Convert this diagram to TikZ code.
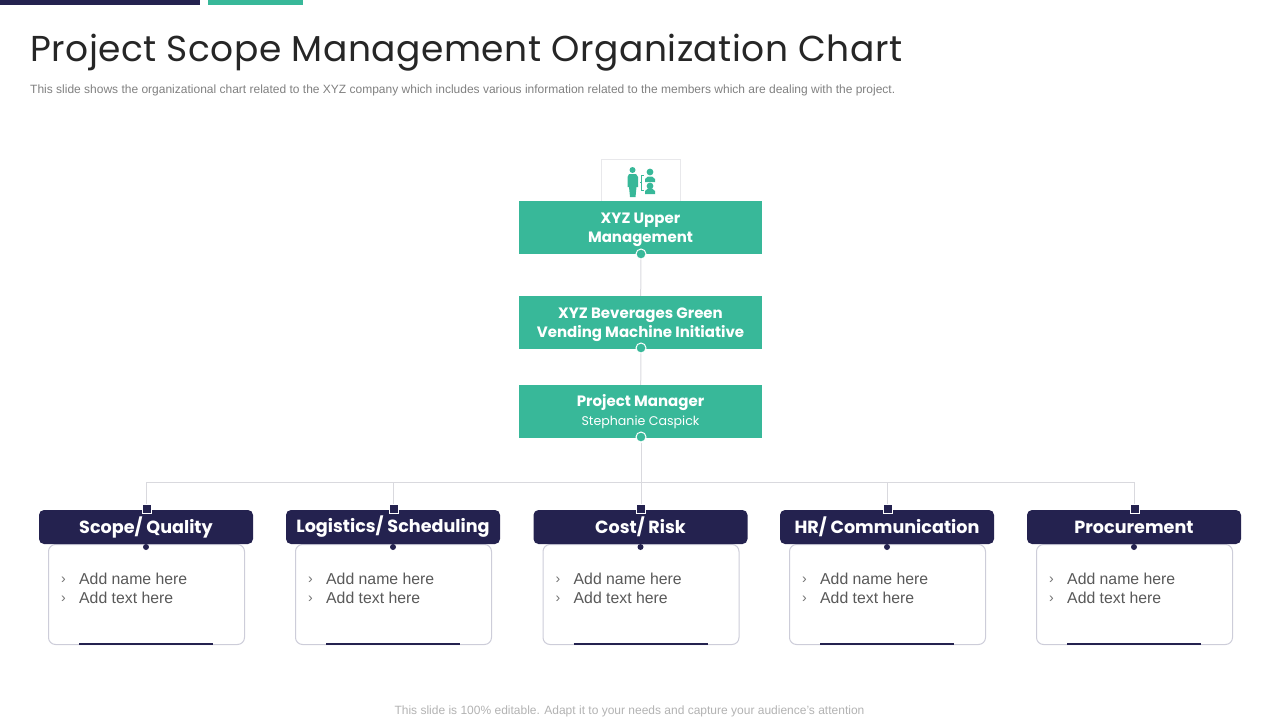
\documentclass[tikz,border=0pt]{standalone}
\usepackage{fontspec}
\setmainfont{Liberation Sans}
\newfontfamily\gothic{Poppins}
\newfontfamily\gothicwide[LetterSpace=1.45]{Poppins}
\definecolor{navy}{HTML}{24224F}
\definecolor{teal}{HTML}{38B899}
\definecolor{rule}{HTML}{D9D9DE}
\definecolor{listrule}{HTML}{CDCDD9}
\tikzset{
  topbox/.style={fill=teal,minimum width=243pt,minimum height=53pt,inner sep=0pt},
  toptext/.style={inner sep=0pt,text=white,align=center,font=\gothic\fontsize{15}{19}\selectfont},
  headbox/.style={fill=navy,rounded corners=5pt,minimum width=214pt,minimum height=34pt,inner sep=0pt,text=white,font=\gothic\bfseries\fontsize{17.6}{20}\selectfont},
  listbox/.style={draw=listrule,line width=1pt,fill=white,rounded corners=7pt,minimum width=196pt,minimum height=100pt,inner sep=0pt},
  greendot/.style={circle,fill=teal,draw=white,line width=1pt,minimum size=10pt,inner sep=0pt},
  navydot/.style={circle,fill=navy,minimum size=6pt,inner sep=0pt},
  navysq/.style={fill=navy,draw=white,line width=1pt,minimum size=9pt,inner sep=0pt},
  listtext/.style={anchor=base west,inner sep=0pt,text=black!65,font=\fontsize{15.8}{18}\selectfont},
  connector/.style={draw=rule,line width=1pt}
}
\begin{document}
\begin{tikzpicture}[x=1pt,y=-1pt]
  \useasboundingbox (0,0) rectangle (1280,720);
  % top bars
  \fill[navy] (0,0) rectangle (200,5);
  \fill[teal] (208,0) rectangle (303,5);
  % heading
  \node[anchor=base west,inner sep=0pt,text=black!85,font=\gothicwide\fontsize{36}{40}\selectfont] (title) at (30,61) {Project Scope Management Organization Chart};
  \node[anchor=base west,inner sep=0pt,text=black!50,font=\fontsize{12}{14}\selectfont] (subtitle) at (30,93) {This slide shows the organizational chart related to the XYZ  company which includes various information related to the members which are dealing with the project.};
  \node[anchor=base,inner sep=0pt,text=black!30,font=\fontsize{12}{14}\selectfont] (footer) at (629.5,714) {This slide is 100\% editable. Adapt it to your needs and capture your audience's attention};
  % icon box
  \node[draw=rule!60,line width=1pt,minimum width=79pt,minimum height=42pt,inner sep=0pt] (iconbox) at (641,180) {};
  \fill[teal] (632.5,170) circle (3pt);
  \fill[teal] (629,174) -- (636,174) -- (638,177) -- (638,187) -- (636.5,187) -- (635.5,197) -- (630,197) -- (629,187) -- (627.5,187) -- (627.5,177) -- cycle;
  \fill[teal] (650,172) circle (3.4pt);
  \fill[teal] (645,182) -- (645,179) -- (648,176.5) -- (652,176.5) -- (655,179) -- (655,182) -- cycle;
  \fill[teal] (650,186) circle (3.4pt);
  \fill[teal] (645,194) -- (645,191) -- (648,188.5) -- (652,188.5) -- (655,191) -- (655,194) -- cycle;
  \draw[teal,line width=.8pt] (643.5,175) -- (641.5,175) -- (641.5,190) -- (643.5,190) (641.5,182) -- (639.5,182);
  % green boxes
  \node[topbox] (upper) at (640.5,227.5) {};
  \node[topbox] (initiative) at (640.5,322.5) {};
  \node[topbox] (manager) at (640.5,411.5) {};
  \node[toptext] (uppertext) at (640.5,229.5) {\textbf{XYZ Upper}\\\textbf{Management}};
  \node[toptext] (initiativetext) at (640.5,324.5) {\textbf{XYZ Beverages Green}\\\textbf{Vending Machine Initiative}};
  \node[toptext] (managertext) at (640.5,412) {\textbf{Project Manager}\\{\fontsize{12.6}{15}\selectfont Stephanie Caspick}};
  \coordinate (bus) at (641,482);
  \node[greendot] (upperdot) at (641,254) {};
  \node[greendot] (initiativedot) at (641,348) {};
  \node[greendot] (managerdot) at (641,437) {};
  \draw[connector] (upperdot) -- (initiative);
  \draw[connector] (initiativedot) -- (manager);
  \draw[connector] (managerdot) -- (bus);
  % departments
  \foreach \i/\cx/\name in {1/146/{Scope/ Quality},2/393/{Logistics/ Scheduling},3/640.5/{Cost/ Risk},4/887/{HR/ Communication},5/1134/{Procurement}} {
    \node[listbox] (list\i) at (\cx+.5,594.5) {};
    \node[headbox] (head\i) at (\cx,527) {\name};
    \node[navysq] (sq\i) at (\cx+.5,509) {};
    \node[navydot] (dot\i) at (\cx,547) {};
    \draw[connector] (bus) -| (sq\i);
    \draw[navy,line width=2pt] (\cx-67,644) -- (\cx+67,644);
    \node[listtext,text=black!55,font=\fontsize{14}{16}\selectfont] (bulla\i) at (\cx-85,583) {›};
    \node[listtext,text=black!55,font=\fontsize{14}{16}\selectfont] (bullb\i) at (\cx-85,602) {›};
    \node[listtext] (name\i) at (\cx-67,584) {Add name here};
    \node[listtext] (text\i) at (\cx-67,603) {Add text here};
  }
\end{tikzpicture}
\end{document}
